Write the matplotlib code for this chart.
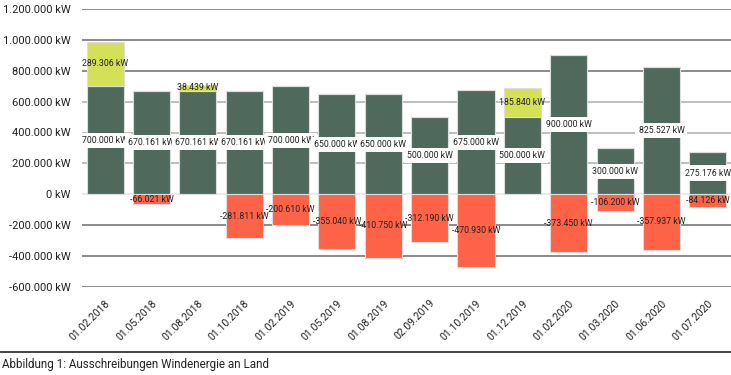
import matplotlib.pyplot as plt
from matplotlib.lines import Line2D

dates = ['01.02.2018', '01.05.2018', '01.08.2018', '01.10.2018', '01.02.2019',
         '01.05.2019', '01.08.2019', '02.09.2019', '01.10.2019', '01.12.2019',
         '01.02.2020', '01.03.2020', '01.06.2020', '01.07.2020']
volume = [700000, 670161, 670161, 670161, 700000, 650000, 650000, 500000,
          675000, 500000, 900000, 300000, 825527, 275176]
over = [289306, 0, 38439, 0, 0, 0, 0, 0, 0, 185840, 0, 0, 0, 0]
under = [0, -66021, 0, -281811, -200610, -355040, -410750, -312190, -470930,
         0, -373450, -106200, -357937, -84126]
yticks = [-600000, -400000, -200000, 0, 200000, 400000, 600000, 800000, 1000000, 1200000]

green = '#4f6a5d'
lime = '#d4e157'
red = '#ff6347'


def kw(v):
    return '{:,}'.format(int(v)).replace(',', '.') + ' kW'


plt.rcParams['font.family'] = ['Roboto', 'DejaVu Sans']
fig = plt.figure(figsize=(7.31, 3.75), dpi=100)
ax = fig.add_axes([0.112, 0.235, 0.888, 0.741])

# gridlines
for t in yticks:
    if t == 0:
        c = '#e6e6e6'
    elif 0 < t <= 600000:
        c = '#b4b4b4'
    else:
        c = '#777777'
    ax.axhline(t, color=c, lw=1.2, zorder=0)

x = list(range(len(dates)))
w = 0.8
ax.bar(x, volume, w, color=green, edgecolor='#dddddd', lw=0.8, zorder=2)
ax.bar(x, over, w, bottom=volume, color=lime, edgecolor='#dddddd', lw=0.8, zorder=2)
ax.bar(x, under, w, color=red, edgecolor='#dddddd', lw=0.8, zorder=2)

for i in x:
    ax.text(i, volume[i] / 2, kw(volume[i]), ha='center', va='center', fontsize=6.3,
            color='#222222', zorder=4,
            bbox=dict(boxstyle='square,pad=0.35', fc='white', ec='none'))
    if over[i]:
        ax.text(i, volume[i] + over[i] / 2, kw(over[i]), ha='center', va='center',
                fontsize=6.3, color='#222222', zorder=4)
    if under[i]:
        ax.text(i, under[i] / 2, kw(under[i]), ha='center', va='center',
                fontsize=6.3, color='#222222', zorder=4)

ax.set_xlim(-0.5, len(dates) - 0.5)
ax.set_ylim(-600000, 1200000)
ax.set_yticks(yticks)
ax.set_yticklabels([kw(t) for t in yticks], fontsize=8, color='#222222')
ax.set_xticks(x)
ax.set_xticklabels(dates, rotation=45, ha='right', va='top', rotation_mode='anchor',
                   fontsize=7.5, color='#222222')
ax.tick_params(length=0, pad=8)
for s in ax.spines.values():
    s.set_visible(False)

fig.add_artist(Line2D([0, 1], [0.061, 0.061], color='#222222', lw=1.2,
                      transform=fig.transFigure))
fig.text(0.003, 0.027, 'Abbildung 1: Ausschreibungen Windenergie an Land',
         fontsize=8.4, color='#222222', va='center')

fig.savefig('out.png', dpi=100)
